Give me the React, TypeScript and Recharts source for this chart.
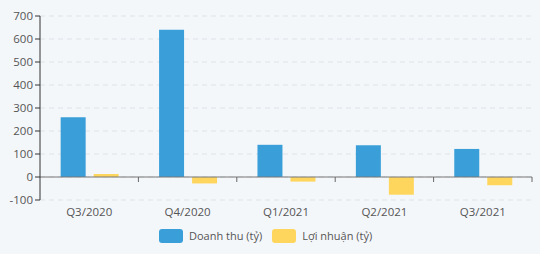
import React from "react";
import { BarChart, Bar, XAxis, YAxis, CartesianGrid, Legend, ReferenceLine } from "recharts";

const categories = ["Q3/2020", "Q4/2020", "Q1/2021", "Q2/2021", "Q3/2021"];
const revenue = [260, 640, 140, 138, 122];
const profit = [13, -28, -20, -77, -36];
const yTicks = [-100, 0, 100, 200, 300, 400, 500, 600, 700];

const data = categories.map((c, i) => ({ name: c, revenue: revenue[i], profit: profit[i] }));

const BLUE = "#3a9fd9";
const YELLOW = "#fed65e";
const FONT = "'Open Sans', 'Noto Sans', sans-serif";

const ZeroLine = (props: any) => {
  const { x1, x2, y1 } = props;
  const n = categories.length;
  const w = (x2 - x1) / n;
  const ticks = [];
  for (let i = 1; i <= n; i++) {
    const x = x1 + w * i;
    ticks.push(<line key={i} x1={x} x2={x} y1={y1} y2={y1 + 5} stroke="#666" strokeWidth={1} />);
  }
  return (
    <g>
      <line x1={x1} x2={x2} y1={y1} y2={y1} stroke="#777" strokeWidth={1} />
      {ticks}
    </g>
  );
};

const LegendContent = () => (
  <div style={{ display: "flex", justifyContent: "flex-start", alignItems: "center", paddingLeft: 159, paddingTop: 4, fontFamily: FONT, fontSize: 11, color: "#555" }}>
    <span style={{ display: "inline-block", width: 24, height: 14, background: BLUE, borderRadius: 3, marginRight: 6 }} />
    <span style={{ marginRight: 10 }}>Doanh thu (tỷ)</span>
    <span style={{ display: "inline-block", width: 24, height: 14, background: YELLOW, borderRadius: 3, marginRight: 6 }} />
    <span>Lợi nhuận (tỷ)</span>
  </div>
);

export default function App() {
  return (
    <div style={{ position: "absolute", left: 0, top: 0, width: 540, height: 254, background: "#f4f7fa" }}>
      <BarChart
        width={540}
        height={254}
        data={data}
        margin={{ top: 16, right: 8, bottom: 4, left: 0 }}
        barCategoryGap="21%"
        barGap={8}
      >
        <CartesianGrid vertical={false} stroke="#dde2e8" strokeDasharray="5 4" />
        <XAxis
          dataKey="name"
          axisLine={false}
          tickLine={false}
          height={24}
          tick={{ fill: "#555", fontSize: 11.5, fontFamily: FONT }}
          interval={0}
        />
        <YAxis
          domain={[-100, 700]}
          ticks={yTicks}
          width={40}
          axisLine={{ stroke: "#333" }}
          tickLine={{ stroke: "#333" }}
          tickSize={5}
          tick={{ fill: "#555", fontSize: 11.5, fontFamily: FONT }}
          interval={0}
        />
        <ReferenceLine y={0} shape={<ZeroLine />} />
        <Legend verticalAlign="bottom" height={26} content={<LegendContent />} />
        <Bar dataKey="revenue" fill={BLUE} isAnimationActive={false} />
        <Bar dataKey="profit" fill={YELLOW} isAnimationActive={false} />
      </BarChart>
    </div>
  );
}
